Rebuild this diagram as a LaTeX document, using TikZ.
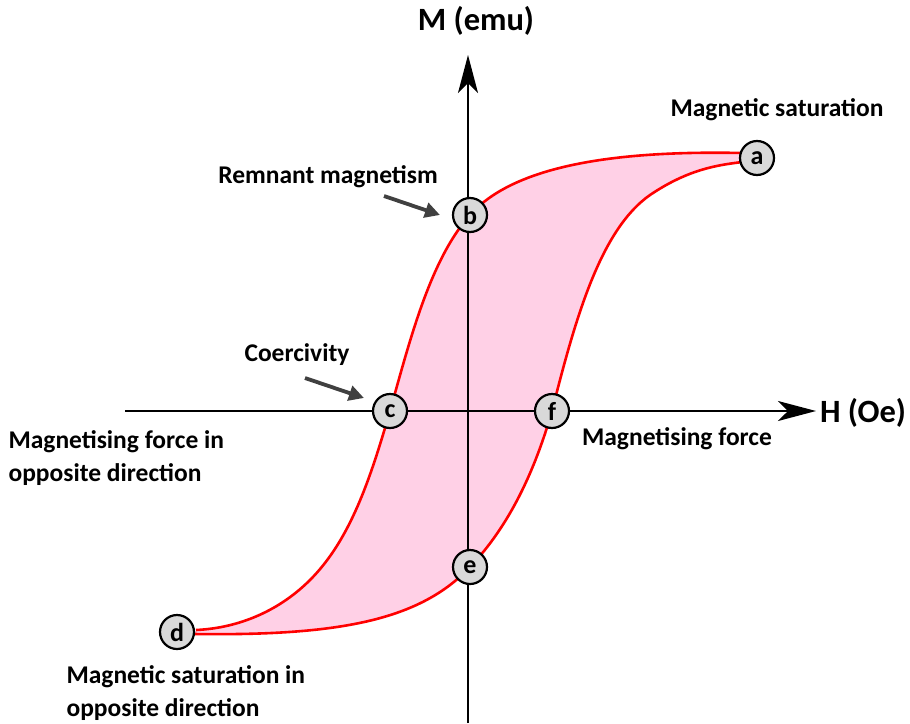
\documentclass[tikz,border=0pt]{standalone}
\usepackage{fontspec}
\setmainfont{Carlito}
\usetikzlibrary{arrows.meta}
\definecolor{loopfill}{HTML}{FFD0E6}
\definecolor{loopred}{HTML}{FF0000}
\definecolor{ptgray}{HTML}{D9D9D9}
\definecolor{arrowgray}{HTML}{404040}
\begin{document}
\begin{tikzpicture}[x=1pt,y=-1pt,
  pt/.style={circle,draw=black,line width=2.2pt,fill=ptgray,minimum size=34pt,inner sep=0pt,font=\bfseries\fontsize{26}{26}\selectfont},
  lbl/.style={font=\bfseries\fontsize{25.5}{33}\selectfont},
  biglbl/.style={font=\bfseries\fontsize{32.5}{36}\selectfont},
  garrow/.style={draw=arrowgray,line width=3.8pt,-{Triangle[length=15pt,width=15pt]}},
  axis/.style={line width=1.8pt,-{Stealth[length=38pt,width=20pt,inset=10pt]}},
  curve/.style={draw=loopred,line width=2.6pt}]
\useasboundingbox (0,0) rectangle (910,723);
% loop fill
\fill[loopfill] (196,630) .. controls (240,628) and (280,610) .. (310,580)
  .. controls (350,540) and (370,480) .. (390,411)
  .. controls (410,340) and (430,260) .. (470,215)
  .. controls (510,170) and (600,150) .. (742,153)
  -- (742,162) .. controls (720,165) and (690,168) .. (650,195)
  .. controls (600,230) and (575,320) .. (552,411)
  .. controls (535,470) and (510,525) .. (470,567)
  .. controls (420,620) and (340,636) .. (194,634) -- cycle;
% axes
\coordinate (vbot) at (468,723);
\coordinate (vtop) at (468,55);
\coordinate (hl) at (125,411);
\coordinate (hr) at (816,411);
\draw[axis] (vbot) -- (vtop);
\draw[axis] (hl) -- (hr);
% curves
\draw[curve] (196,630) .. controls (240,628) and (280,610) .. (310,580)
  .. controls (350,540) and (370,480) .. (390,411)
  .. controls (410,340) and (430,260) .. (470,215)
  .. controls (510,170) and (600,150) .. (742,153);
\draw[curve] (194,634) .. controls (340,636) and (420,620) .. (470,567)
  .. controls (510,525) and (535,470) .. (552,411)
  .. controls (575,320) and (600,230) .. (650,195)
  .. controls (690,168) and (720,165) .. (742,162);
% points
\node[pt] (a) at (757,158) {a};
\node[pt] (b) at (470,215) {b};
\node[pt] (c) at (390,411) {c};
\node[pt] (d) at (177,632) {d};
\node[pt] (e) at (470,567) {e};
\node[pt] (f) at (552,411) {f};
% labels
\node[biglbl] (mlab) at (476,21) {M (emu)};
\node[biglbl] (hlab) at (863,413) {H (Oe)};
\node[lbl] (sat) at (777,110) {Magnetic saturation};
\node[lbl] (rem) at (328,177) {Remnant magnetism};
\node[lbl] (coe) at (297,355) {Coercivity};
\node[lbl,align=left,anchor=west] (mfo) at (5,458) {Magnetising force in\\opposite direction};
\node[lbl] (mf) at (677,439) {Magnetising force};
\node[lbl,align=left,anchor=west] (mso) at (63,693) {Magnetic saturation in\\opposite direction};
% gray arrows
\coordinate (r1) at (384,196);
\coordinate (r2) at (440,215);
\coordinate (c1) at (305,378);
\coordinate (c2) at (364,398);
\draw[garrow] (r1) -- (r2);
\draw[garrow] (c1) -- (c2);
\end{tikzpicture}
\end{document}
